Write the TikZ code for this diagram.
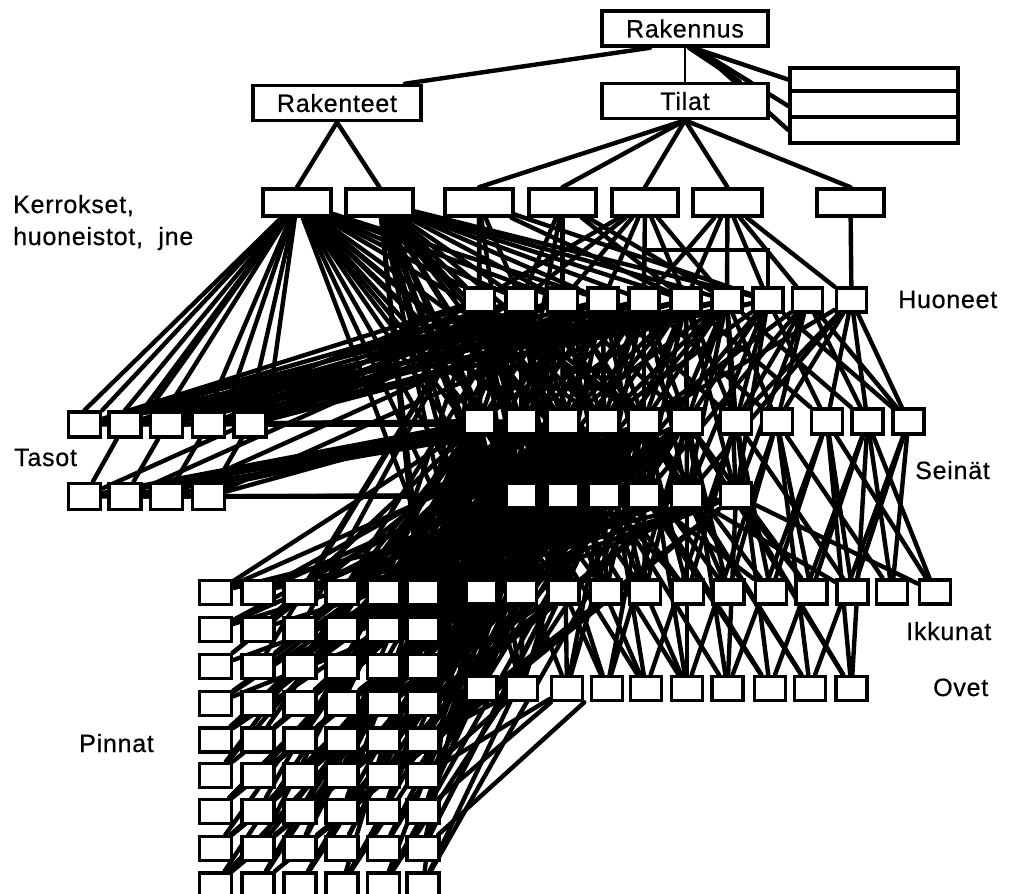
\documentclass[tikz,border=0pt]{standalone}
\usepackage{fontspec}
\setmainfont{Liberation Sans}[LetterSpace=3, FakeBold=0.6]
\usetikzlibrary{backgrounds}
\tikzset{
 bx/.style={draw, fill=white, line width=3.6pt, inner sep=0pt, minimum width=31pt, minimum height=25pt},
 big/.style={bx, minimum width=166pt, minimum height=35pt, font=\fontsize{25}{30}\selectfont},
 ln/.style={line width=4.4pt, line cap=round},
 lbl/.style={font=\fontsize{25}{30}\selectfont, inner sep=0pt},
}
\begin{document}
\begin{tikzpicture}[x=1pt,y=-1pt]
\useasboundingbox (0,0) rectangle (1013,894);
% ---- top
\node[big] (R) at (685,28.5) {Rakennus};
\node[big, minimum width=168pt] (RT) at (337,103) {Rakenteet};
\node[big] (TI) at (685,101) {Tilat};
\node[bx, minimum width=168pt, minimum height=23pt] (S1) at (874,79.5) {};
\node[bx, minimum width=168pt, minimum height=26pt] (S2) at (874,104) {};
\node[bx, minimum width=168pt, minimum height=26pt] (S3) at (874,130) {};
% ---- Kerrokset
\foreach \i/\x/\w in {1/297/68,2/379.5/67,3/479/68,4/562.5/67,5/645/66,6/727.5/69,7/850.5/67}
  \node[bx, minimum width=\w pt, minimum height=27pt] (K\i) at (\x,202.5) {};
% ---- Huoneet
\foreach \i/\x in {1/479.5,2/521,3/562.5,4/603,5/644,6/686,7/727,8/768,9/807.5,10/851.5}
  \node[bx, minimum width=30pt, minimum height=24pt] (H\i) at (\x,300) {};
% ---- Seinat
\foreach \i/\x in {1/479.5,2/521.5,3/563,4/603,5/644,6/687,7/736,8/777,9/827,10/867.5,11/908.5}
  \node[bx] (W\i) at (\x,421.5) {};
\foreach \i/\x in {1/521.5,2/563,3/604,4/644,5/687,6/736}
  \node[bx] (V\i) at (\x,495.5) {};
% ---- Ikkunat, Ovet
\foreach \i/\x in {1/481.5,2/521,3/563.5,4/606,5/645,6/688,7/728.5,8/771,9/811.5,10/852.5,11/892,12/935}
  \node[bx, minimum height=24pt] (I\i) at (\x,592) {};
\foreach \i/\x in {1/481.5,2/522,3/567,4/607,5/646,6/687,7/727.5,8/770,9/810,10/851.5}
  \node[bx, minimum height=24pt] (O\i) at (\x,688.5) {};
% ---- Tasot
\foreach \i/\x in {1/84.5,2/125,3/166.5,4/208.5,5/250}
  \node[bx, minimum width=32pt] (T\i) at (\x,424.5) {};
\foreach \i/\x in {1/84.5,2/125,3/166.5,4/208.5}
  \node[bx, minimum width=32pt, minimum height=26pt] (U\i) at (\x,496.5) {};
% ---- Pinnat
\foreach \c/\x in {1/215.5,2/258,3/300,4/342,5/383.5,6/423}
  \foreach \r/\y in {1/592.5,2/629.5,3/666.5,4/703.5,5/740,6/775.5,7/811.5,8/848.5,9/885}
    \node[bx, minimum width=32pt, minimum height=24pt] (P-\r-\c) at (\x,\y) {};
% ---- labels
\node[lbl, anchor=base west] (lk1) at (13,213) {Kerrokset,};
\node[lbl, anchor=base west] (lk2) at (13,245) {huoneistot,\ \ jne};
\node[lbl, anchor=base west] (lta) at (14,466) {Tasot};
\node[lbl, anchor=base west] (lpi) at (79,752) {Pinnat};
\node[lbl, anchor=base west] (lhu) at (898,308) {Huoneet};
\node[lbl, anchor=base west] (lse) at (915,479) {Seinät};
\node[lbl, anchor=base west] (lik) at (906,640) {Ikkunat};
\node[lbl, anchor=base west] (lov) at (933,696) {Ovet};

\begin{pgfonlayer}{background}
\fill[white] (0,0) rectangle (1013,894);
% top connectors
\draw[ln] ([xshift=-35pt]R.south) -- ([xshift=68pt]RT.north);
\draw[line width=2.2pt] (R.south) -- (TI.north);
\draw[ln] ([xshift=8pt]R.south) -- (S1.west);
\draw[ln] ([xshift=10pt]R.south) -- ([yshift=-2pt]S2.west);
\draw[ln] ([xshift=12pt]R.south) -- (S3.west);
\draw[ln] ([xshift=6pt]R.south) -- ([xshift=-20pt]TI.north east);
\draw[ln] ([xshift=4pt]R.south) -- ([xshift=-30pt]TI.north east);
\foreach \b in {K1,K2} \draw[ln] (RT.south) -- (\b.north);
\foreach \b in {K3,K4,K5,K6,K7} \draw[ln] (TI.south) -- (\b.north);
% Kerrokset -> lower levels
\foreach \a/\b in {K1/T1.north,K1/T1.north east,K1/T2.north,K1/T2.north east,K1/T3.north,K1/T3.north west,
  K1/T4.north,K1/T4.north east,K1/T5.north,K1/T5.north east,K1/H1.north west,K1/H1.west,K1/H2,K1/H3,K1/H4,
  K1/W1,K1/W2,K1/W3,K1/W4,K1/V1,K1/V2,K1/V3,K1/V4,K1/I1,K1/I2,K1/I3,K1/O1,
  K2/H1,K2/H2,K2/H3,K2/H4,K2/H5,K2/H6,K2/H7,K2/H8,K2/W1,K2/W2,K2/W3,K2/W4,K2/W5,K2/V1,K2/V2,K2/V3,K2/V4,
  K2/I1,K2/I2,K2/I3,K2/O1,K2/O2,K2/O3,K2/P-1-6,K2/P-2-6,
  K3/H1,K3/H2,K3/H6,K3/H8,K3/W1,K3/V1,K4/H2,K4/H3,K4/H6,K4/H7,K4/W2,
  K5/H1,K5/H2,K5/H3,K5/H4,K5/H5,K5/H6,K5/H7,
  K6/H5,K6/H6,K6/H7,K6/H8,K6/H9,K6/H10,K7/H10}
  \draw[ln] (\a) -- (\b);
\draw[ln] (H5.north) -- ++(0,-36) -| (H8.north);
% Huoneet -> Seinat
\foreach \a/\b in {H1/W1,H1/W2,H1/W3,H1/W4,H1/W5,H1/V1,H1/V2,H1/V3,H1/I1,H1/I2,H1/I3,
  H2/W1,H2/W2,H2/W3,H2/W4,H2/W5,H2/V1,H2/V2,H2/V3,H2/V4,H2/I1,H2/I3,
  H3/W1,H3/W2,H3/W3,H3/W4,H3/W5,H3/W6,H3/V1,H3/V2,H3/V3,H3/V5,H3/I1,H3/I2,
  H4/W1,H4/W2,H4/W3,H4/W4,H4/W5,H4/W6,H4/W7,H4/V1,H4/V2,H4/V3,H4/V4,H4/I4,
  H5/W1,H5/W2,H5/W3,H5/W4,H5/W5,H5/W6,H5/W8,H5/V1,H5/V2,H5/V3,H5/V4,H5/V5,
  H6/W2,H6/W3,H6/W4,H6/W5,H6/W6,H6/W7,H6/W9,H6/V1,H6/V3,H6/V4,H6/V5,H6/V6,
  H7/W3,H7/W4,H7/W5,H7/W6,H7/W7,H7/W8,H7/W10,H7/V2,H7/V4,H7/V5,H7/V6,
  H8/W4,H8/W6,H8/W7,H8/W9,H8/W11,H8/V3,H8/V5,H8/V6,
  H9/W5,H9/W7,H9/W8,H9/W10,H9/W11,H9/V4,H9/V6,
  H10/W5,H10/W7,H10/W8,H10/W9,H10/W10,H10/W11,H10/V5}
  \draw[ln] (\a) -- (\b);
% Tasot
\foreach \a/\b in {T1/H1,T1/H2,T1/H3,T1/H5,T1/H7,T1/W1,T2/H2,T2/H3,T2/H4,T2/H6,T2/H8,T2/W1,
  T3/H1,T3/H3,T3/H5,T3/H7,T3/W1,T3/W2,
  T4/H2,T4/H3,T4/H5,T4/H6,T4/H8,T4/W1,T5/H1,T5/H2,T5/H3,T5/H4,T5/H6,T5/H7,
  U1/T2,U1/H2,U1/W1,U1/W2,U1/W3,U1/V1,U2/T3,U2/H3,U2/W1,U2/W3,U2/V1,
  U3/T4,U3/H4,U3/W1,U3/W2,U3/V2,U4/T5,U4/H5,U4/W1,U4/V2}
  \draw[ln] (\a) -- (\b);
\draw[ln] (T5.east) -- (T5.east -| W1.west);
\draw[ln] (U4.east) -- (U4.east -| V1.west);
% Seinat -> Ikkunat, Ovet
\foreach \a/\b in {W1/I1,W1/I2,W1/I4,W1/O1,W1/O2,W1/O5,
  W2/I1,W2/I3,W2/I5,W2/O2,W2/O4,W2/O6,
  W3/I2,W3/I4,W3/I6,W3/O1,W3/O3,W3/O7,
  W4/I3,W4/I5,W4/I7,W4/O2,W4/O5,W4/O8,
  W5/I4,W5/I6,W5/I8,W5/O3,W5/O6,W5/O9,
  W6/I5,W6/I7,W6/I9,W6/O4,W6/O7,W6/O10,
  W7/I6,W7/I8,W7/I10,W7/O5,W7/O8,
  W8/I7,W8/I9,W8/I11,W8/O6,W8/O9,
  W9/I8,W9/I10,W9/I12,W9/O7,W9/O10,
  W10/I9,W10/I11,W10/I12,W10/O8,W10/O10,
  W11/I10,W11/I11,W11/O9,
  V1/I1,V1/I3,V1/O2,V1/O4,V2/I2,V2/I4,V2/O1,V2/O5,V3/I3,V3/I6,V3/O3,V3/O6,
  V4/I5,V4/I8,V4/O4,V4/O8,V5/I7,V5/I10,V5/O6,V5/O9,V6/I9,V6/I12,V6/O7,V6/O10}
  \draw[ln] (\a) -- (\b);
% Pinnat
\foreach \r in {1,...,9}{
  \foreach \c in {1,...,6}{
    \pgfmathtruncatemacro\va{mod(\r+\c,6)+1}
    \pgfmathtruncatemacro\wa{mod(2*\r+\c,6)+1}
    \pgfmathtruncatemacro\xa{mod(3*\r+2*\c,5)+1}
    \draw[ln] (P-\r-\c) -- (V\va);
    \draw[ln] (P-\r-\c) -- (W\wa);
    \draw[ln] (P-\r-\c) -- (W\xa);
  }}
\foreach \a/\b in {P-1-6/I1,P-2-6/I1,P-3-6/I2,P-2-5/I1,P-3-5/I2,P-1-5/I1,P-2-6/O1,P-3-6/O1,P-4-6/O1,
  P-5-6/O1,P-5-6/O2,P-6-6/O2,P-6-6/O3,P-7-6/O3,P-8-6/O3.south east,P-4-5/I3,P-5-5/I2,
  P-1-3/H1,P-2-5/H2,P-3-2/H1,P-1-6/H3,P-1-4/H2,P-2-3/H1,P-1-5/H1,P-3-4/H2,P-4-6/H1}
  \draw[ln] (\a) -- (\b);
\end{pgfonlayer}
\end{tikzpicture}
\end{document}
